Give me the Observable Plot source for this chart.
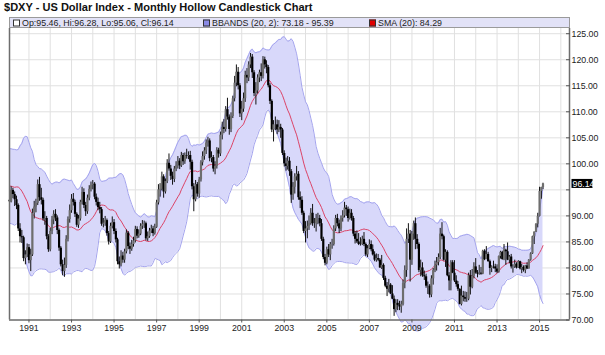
<!DOCTYPE html>
<html><head><meta charset="utf-8">
<script src="https://cdn.jsdelivr.net/npm/d3@7"></script>
<script src="https://cdn.jsdelivr.net/npm/@observablehq/plot@0.6"></script>
<style>
body{margin:0;background:#fff;}
#wrap{position:relative;width:605px;height:355px;overflow:hidden;font-family:"Liberation Sans",Arial,sans-serif;color:#111}
#title{position:absolute;left:4px;top:7.5px;transform:translateY(-50%);font-weight:bold;white-space:nowrap;line-height:1;font-size:10px}
#chart{position:absolute;left:0;top:17px}
#legend{position:absolute;left:9px;top:17px;width:561px;height:11px;background:#e2e2f7;border:1px solid #9a9a9a;box-sizing:border-box}
.li{position:absolute;top:50%;transform:translateY(-50%);white-space:nowrap;line-height:1;font-size:9px;color:#222}
.sq{position:absolute;top:50%;width:7px;height:7px;transform:translateY(-50%);border:1px solid #333;box-sizing:border-box}
</style></head>
<body>
<div id="wrap">
  <div id="title">$DXY - US Dollar Index - Monthly Hollow Candlestick Chart</div>
  <div id="chart"></div>
  <div id="legend">
    <div class="sq" style="left:3px;background:#fff"></div><div class="li" id="l1" style="left:12px"></div>
    <div class="sq" style="left:193px;background:#8a8ae6"></div><div class="li" id="l2" style="left:202px"></div>
    <div class="sq" style="left:359px;background:#e00000"></div><div class="li" id="l3" style="left:368px"></div>
  </div>
</div>
<script>
// ---- DATA (monthly, Feb 1990 – Mar 2015) ----
// closes before the first drawn candle (Jun 1988 – Jan 1990), used only to seed the 20-month indicators
const warmupCloses = [92.0,95.5,96.5,95.0,90.5,88.0,92.0,95.5,94.0,96.5,97.0,103.0,101.0,97.0,101.5,98.5,98.0,96.0,93.5,93.0];
const startYear = 1990, startMonth = 1; // Feb 1990
const closes = [
 92.7,94.9,94.1,93.1,92.0,87.5,86.0,85.8,81.8,82.5,83.9,            // 1990 Feb-Dec
 81.4,82.5,90.5,91.7,92.4,96.0,93.5,93.0,89.4,89.5,86.0,83.5,       // 1991
 87.0,89.2,90.3,89.6,87.2,83.8,80.6,79.3,80.5,85.5,89.3,91.0,       // 1992
 93.2,92.6,90.3,88.2,89.4,92.6,94.5,92.0,90.8,93.4,95.1,95.9,       // 1993
 96.1,93.6,92.6,91.6,91.2,88.4,88.6,89.1,86.6,85.0,88.0,88.7,       // 1994
 87.0,85.4,81.2,80.6,82.3,81.5,83.1,86.7,84.1,83.6,84.5,85.2,       // 1995
 87.4,86.1,86.5,88.0,88.4,88.5,85.6,86.0,87.1,87.5,86.6,87.8,       // 1996
 92.5,95.0,95.1,97.5,94.6,96.6,100.1,99.0,97.6,97.0,99.0,99.6,      // 1997
 100.5,99.6,101.6,100.4,101.6,101.5,101.6,100.3,95.6,93.1,96.0,94.2,// 1998
 96.9,100.2,101.4,102.5,104.0,104.4,101.0,101.2,99.0,99.5,102.6,101.9, // 1999
 105.5,107.0,106.6,110.4,109.0,106.6,109.1,112.5,115.5,117.6,115.0,109.6, // 2000
 110.5,112.5,117.0,116.5,119.0,120.5,117.5,113.5,114.0,116.5,117.5,116.8, // 2001
 120.0,119.0,118.5,115.0,112.0,106.5,107.5,107.5,106.5,107.0,106.5,102.0, // 2002
 100.0,99.5,100.5,98.5,94.0,95.5,97.5,98.0,93.5,93.0,90.5,87.0,     // 2003
 87.5,88.0,88.5,90.5,88.5,88.5,89.5,89.5,88.5,85.5,82.0,80.9,       // 2004
 83.5,82.5,84.5,84.5,87.5,89.5,88.5,87.5,89.5,90.0,91.5,91.2,       // 2005
 89.5,90.5,89.5,86.5,85.5,85.0,84.5,84.5,85.5,84.5,82.5,83.7,       // 2006
 84.5,83.5,82.5,81.5,81.8,81.5,80.0,80.5,78.0,76.5,75.9,76.7,       // 2007
 75.0,74.0,72.0,73.2,72.8,72.5,73.0,77.0,79.5,85.5,86.5,81.5,       // 2008
 86.5,88.5,85.5,84.5,79.5,80.0,78.5,78.3,76.5,76.5,74.8,77.9,       // 2009
 79.5,80.5,81.0,82.0,86.5,86.0,81.5,83.0,78.5,77.5,81.0,79.0,       // 2010
 77.5,76.8,75.9,73.0,74.6,74.3,74.0,74.0,78.5,76.3,78.4,80.2,       // 2011
 79.0,78.8,79.0,78.8,83.2,81.6,82.6,81.2,79.9,80.2,80.2,79.8,       // 2012
 79.2,82.2,83.0,81.6,83.4,83.1,81.5,82.1,80.2,80.2,80.7,80.0,       // 2013
 81.2,79.8,80.1,79.5,80.4,79.8,81.5,82.7,86.0,86.9,88.4,89.9,       // 2014
 94.7,95.46,96.14                                                   // 2015 Jan-Mar
];
const highs = [
 94.3,95.6,95.3,94.6,93.8,92.3,88.5,87.2,86.1,83.3,84.6,
 84.5,83.6,91.3,92.8,93.2,96.9,97.4,95.3,93.4,90.8,89.9,86.4,
 87.6,89.9,91.0,91.2,90.0,87.5,84.1,81.5,81.9,86.2,89.8,92.1,
 94.1,94.3,93.0,90.6,90.1,93.0,95.5,95.2,92.6,94.0,95.8,96.5,
 96.8,96.4,94.2,93.4,92.6,91.6,89.5,89.9,89.4,87.0,88.6,89.8,
 89.3,87.5,85.7,82.1,83.3,83.0,83.6,87.3,87.0,84.8,85.3,85.9,
 88.0,87.9,87.3,88.5,89.1,89.0,88.8,86.9,87.6,88.2,88.0,88.4,
 93.0,96.0,96.2,98.4,97.9,97.1,100.8,101.9,99.7,98.4,99.5,100.4,
 101.4,101.0,102.2,102.0,102.1,102.8,102.3,102.4,100.7,96.2,96.8,96.4,
 97.4,100.6,102.3,103.1,104.6,105.1,104.8,102.3,101.6,100.4,103.1,103.0,
 106.1,108.0,108.5,111.0,112.6,109.4,109.8,113.0,116.8,119.0,118.5,115.4,
 112.0,113.6,117.8,118.3,119.6,121.2,121.0,117.9,115.6,117.1,118.0,119.2,
 120.6,120.5,119.8,118.9,115.4,112.3,108.3,109.0,108.4,108.3,107.6,106.8,
 102.5,101.1,101.4,101.2,98.9,96.4,98.1,99.5,98.5,94.6,93.7,90.9,
 88.9,89.0,90.0,91.4,92.2,89.5,90.3,90.5,90.1,89.3,85.9,82.6,
 84.0,84.5,84.9,85.5,88.1,90.1,90.3,89.2,90.0,91.0,92.6,92.0,
 91.7,91.3,91.2,89.9,87.0,87.1,86.6,85.8,86.1,86.8,84.8,84.3,
 85.4,85.2,84.4,83.1,82.7,82.6,81.8,82.4,80.8,78.4,77.2,77.8,
 77.0,76.6,74.6,73.9,73.9,73.6,73.6,77.7,80.4,87.5,88.5,87.2,
 87.0,89.0,89.6,86.4,84.8,81.5,81.0,79.4,78.8,77.3,76.8,78.5,
 79.9,81.3,82.0,82.7,87.6,88.7,86.3,83.5,83.3,79.1,81.4,81.4,
 81.4,78.5,77.4,76.0,76.5,75.5,75.4,75.3,79.0,79.5,79.7,81.0,
 81.8,79.5,80.5,80.1,83.4,83.5,84.1,83.0,81.5,80.4,81.3,80.7,
 80.6,82.3,83.2,83.2,84.5,83.6,84.8,82.4,82.6,80.6,81.5,81.0,
 81.4,81.3,80.7,80.4,80.5,81.0,81.6,82.9,86.1,86.9,88.5,90.5,
 95.5,95.5,96.28
];
const lows = [
 92.0,92.5,93.3,91.8,91.2,87.0,84.8,84.7,81.2,80.6,82.0,
 80.8,79.3,82.2,89.4,90.6,92.0,92.8,92.1,89.0,88.2,85.4,83.0,
 83.1,86.4,88.3,88.9,86.4,83.2,80.2,78.5,78.2,79.9,85.0,88.6,
 90.5,91.9,89.7,87.8,87.6,89.0,92.1,91.4,89.9,90.3,92.9,94.6,
 95.0,93.1,91.9,91.0,90.4,88.0,87.7,88.0,86.1,84.4,84.7,87.5,
 86.4,84.8,80.6,79.8,80.2,80.9,80.9,82.7,83.5,82.6,83.2,84.0,
 84.8,85.6,85.7,86.2,87.4,87.6,85.2,85.1,85.7,86.6,86.0,86.3,
 87.6,92.1,93.6,94.8,93.4,94.2,96.2,98.6,96.8,95.9,96.4,98.5,
 99.0,98.9,99.3,99.7,99.9,100.9,100.8,98.8,95.0,90.8,92.7,93.6,
 93.4,96.5,99.6,100.7,101.8,103.2,100.4,100.2,98.4,97.9,99.0,101.1,
 101.4,104.6,105.8,106.1,108.4,105.5,106.0,108.7,111.9,114.8,114.2,108.9,
 108.3,109.9,111.8,115.4,115.8,118.3,116.4,112.9,111.3,113.4,115.6,115.8,
 116.3,118.2,117.3,114.6,111.4,106.0,104.2,106.4,105.6,106.0,104.9,101.6,
 99.4,98.6,98.8,97.6,92.4,93.0,94.2,96.7,93.0,91.4,90.1,86.6,
 84.8,85.6,87.2,88.2,88.0,87.6,86.9,88.3,87.9,85.1,81.6,80.4,
 80.6,82.0,81.4,83.6,84.2,87.0,87.9,86.6,87.0,88.8,89.6,89.9,
 88.8,89.2,89.0,86.0,84.6,84.7,84.3,84.2,84.3,84.1,82.2,82.0,
 83.5,83.1,82.3,81.2,81.1,81.2,79.9,79.7,77.6,76.2,74.5,75.2,
 74.9,73.9,70.7,71.4,71.8,71.8,71.3,72.7,76.0,78.2,84.7,77.3,
 80.5,85.3,83.5,83.6,79.1,78.3,78.2,77.6,76.1,74.9,74.2,74.3,
 76.7,79.1,79.4,80.4,81.6,85.4,81.3,80.1,78.3,75.6,75.6,78.9,
 77.2,76.3,75.5,72.9,72.7,73.5,73.4,73.4,73.7,74.8,76.0,77.9,
 78.8,78.1,78.6,78.6,78.7,81.4,81.6,81.1,78.6,79.1,79.8,79.1,
 78.9,79.0,81.7,81.5,81.4,80.5,81.4,80.8,79.8,79.0,79.9,79.8,
 79.9,79.6,78.9,79.2,78.9,79.7,79.8,81.3,82.6,84.5,86.8,87.7,
 89.8,93.2,95.06
];
const yearTicks = [1991,1993,1995,1997,1999,2001,2003,2005,2007,2009,2011,2013,2015];
const priceTicks = [70,75,80,85,90,95,100,105,110,115,120,125];
const smaPeriod = 20, bbK = 2;
const lastOpen = 95.46;

// ---- build table ----
const all = warmupCloses.concat(closes);
const rows = closes.map((c, i) => {
  const j = warmupCloses.length + i;
  const win = all.slice(j - smaPeriod + 1, j + 1);
  const m = d3.mean(win);
  const sd = Math.sqrt(d3.mean(win, v => (v - m) ** 2));
  const open = i === closes.length - 1 ? lastOpen : all[j - 1];
  return {date: new Date(Date.UTC(startYear, startMonth + i, 1)), open, close: c, high: highs[i], low: lows[i],
          sma: m, upper: m + bbK * sd, lower: m - bbK * sd, up: c >= open};
});
const last = rows[rows.length - 1];

const fmt = d3.format(".2f");
document.getElementById("l1").textContent = `Op:${fmt(last.open)}, Hi:${fmt(last.high)}, Lo:${fmt(last.low)}, Cl:${fmt(last.close)}`;
document.getElementById("l2").textContent = `BBANDS (20, 2): ${fmt(last.lower)} - ${fmt(last.upper)}`;
document.getElementById("l3").textContent = `SMA (20): ${fmt(last.sma)}`;

const xStart = new Date(Date.UTC(1990, 1, 1)), xEnd = new Date(Date.UTC(2016, 4, 29));
const yearLines = d3.utcYears(new Date(Date.UTC(1991,0,1)), xEnd);
const tickDates = yearTicks.map(y => new Date(Date.UTC(y, 0, 1)));
const yDomain = [70, 126.0];
// hide the axis label that sits under the last-price marker (as in the reference)
const yTmp = d3.scaleLinear(yDomain, [302.5, 11]);
const hiddenLabel = v => Math.abs(yTmp(v) - yTmp(last.close)) < 9;

const plot = Plot.plot({
  width: 605, height: 338,
  marginLeft: 9, marginRight: 36, marginTop: 11, marginBottom: 35.5,
  style: {fontFamily: "'Liberation Sans', Arial, sans-serif", fontSize: "8.8px", color: "#222", background: "transparent"},
  x: {type: "utc", domain: [xStart, xEnd]},
  y: {domain: yDomain},
  marks: [
    Plot.ruleX(yearLines, {stroke: "#e0e0e0", strokeWidth: 1}),
    Plot.ruleY(priceTicks, {stroke: "#e0e0e0", strokeWidth: 1}),
    Plot.areaY(rows, {x: "date", y1: "lower", y2: "upper", fill: "#d8d8fa", fillOpacity: 1}),
    Plot.lineY(rows, {x: "date", y: "upper", stroke: "#a4a4ee", strokeWidth: 1}),
    Plot.lineY(rows, {x: "date", y: "lower", stroke: "#a4a4ee", strokeWidth: 1}),
    Plot.lineY(rows, {x: "date", y: "sma", stroke: "#dc4467", strokeWidth: 1}),
    Plot.ruleX(rows, {x: "date", y1: "low", y2: "high", stroke: "#111", strokeWidth: 1}),
    Plot.ruleX(rows, {x: "date", y1: "open", y2: "close", stroke: d => d.up ? "#6e6e6e" : "#000", strokeWidth: 2.2}),
    Plot.ruleX([xStart], {stroke: "#6e6e6e", strokeWidth: 1.5}),
    Plot.ruleX([xEnd], {stroke: "#6e6e6e", strokeWidth: 1.5}),
    Plot.ruleY([70], {stroke: "#6e6e6e", strokeWidth: 1.5}),
    Plot.axisX(tickDates, {anchor: "bottom", tickFormat: d => String(d.getUTCFullYear()), tickSize: 3, tickPadding: 2, stroke: "#555"}),
    Plot.axisY(priceTicks, {anchor: "right", tickFormat: d => hiddenLabel(d) ? "" : d.toFixed(2), tickSize: -4, tickPadding: 6, stroke: "#555"})
  ]
});
document.getElementById("chart").appendChild(plot);

// last close marker on the right axis
const yPix = plot.scale("y").apply(last.close);
const g = d3.select(plot).append("g");
g.append("rect").attr("x", 571.5).attr("y", yPix - 4.5).attr("width", 21).attr("height", 9).attr("fill", "#000");
g.append("text").attr("x", 572.5).attr("y", yPix).attr("dy", "0.35em").attr("fill", "#fff")
  .attr("font-size", "8.8px").attr("text-anchor", "start").text(fmt(last.close));

// fit text widths to the reference
const ctx = document.createElement("canvas").getContext("2d");
function fit(el, target, weight) {
  const ff = getComputedStyle(el).fontFamily;
  ctx.font = `${weight} 10px ${ff}`;
  const w = ctx.measureText(el.textContent).width;
  return 10 * target / w;
}
const t = document.getElementById("title");
t.style.fontSize = fit(t, 309, "bold") + "px";
const l1 = document.getElementById("l1");
const fs = fit(l1, 152, "normal");
["l1","l2","l3"].forEach(id => document.getElementById(id).style.fontSize = fs + "px");
</script>
</body></html>
